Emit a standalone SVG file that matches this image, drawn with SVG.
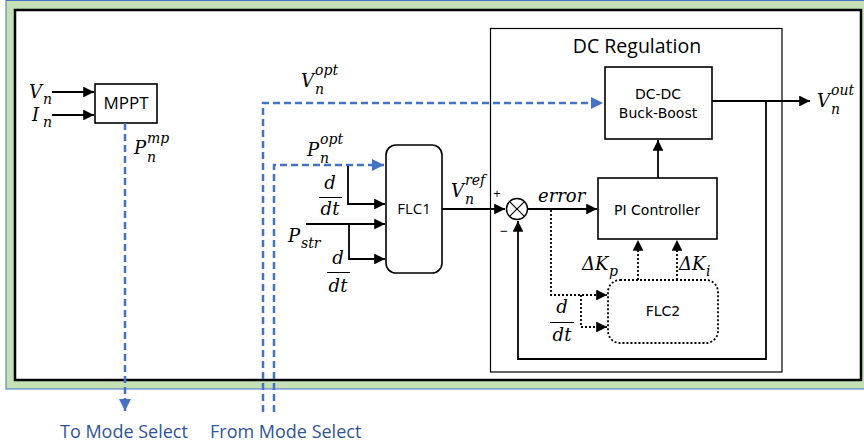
<svg xmlns="http://www.w3.org/2000/svg" width="864" height="448" viewBox="0 0 864 448">
<style>
.box{fill:#fff;stroke:#000;stroke-width:1.6}
.ln{fill:none;stroke:#000;stroke-width:1.8}
.dot{fill:none;stroke:#000;stroke-width:1.8;stroke-dasharray:2,2}
.bl{fill:none;stroke:#4472c4;stroke-width:2.5;stroke-dasharray:7,4}
.t{font-family:"Open Sans","Noto Sans",sans-serif;font-size:16px;fill:#000;text-anchor:middle}
.d{font-family:"DejaVu Sans",sans-serif;font-size:14px;fill:#000;text-anchor:middle}
.m{font-family:"DejaVu Serif",serif;font-style:italic;font-size:18px;fill:#000}
.s{font-size:14px}
.bt{font-family:"Open Sans","Noto Sans",sans-serif;font-size:18px;fill:#2f5597}
</style>
<defs>
<marker id="a" viewBox="0 0 10 10" refX="10" refY="5" markerWidth="6" markerHeight="6" markerUnits="strokeWidth" orient="auto"><path d="M0,0L10,5L0,10z" fill="#000"/></marker>
<marker id="b" viewBox="0 0 10 10" refX="10" refY="5" markerWidth="5" markerHeight="5" markerUnits="strokeWidth" orient="auto"><path d="M0,0L10,5L0,10z" fill="#4472c4"/></marker>
</defs>
<rect x="6" y="0.5" width="870" height="388.5" fill="#c5e0b4" stroke="#4472c4" stroke-width="1"/>
<rect x="15" y="10" width="846" height="370" fill="#fff" stroke="#000" stroke-width="2.5"/>

<g id="dcreg">
<rect x="490.5" y="28.5" width="291.5" height="343.5" fill="none" stroke="#000" stroke-width="1.2"/>
<text class="t" x="637" y="53" style="font-size:19.5px">DC Regulation</text>
</g>
<g id="mppt">
<rect class="box" x="95" y="84" width="62" height="39"/>
<text class="t" x="126" y="109" style="font-size:17px">MPPT</text>
</g>
<g id="flc1">
<rect class="box" x="386" y="145" width="56" height="128" rx="10"/>
<text class="t" x="414" y="214" style="font-size:15px">FLC1</text>
</g>
<g id="dcdc">
<rect class="box" x="605" y="67" width="107" height="72"/>
<text class="d" x="658" y="99">DC-DC</text>
<text class="d" x="658" y="118">Buck-Boost</text>
</g>
<g id="pi">
<rect class="box" x="598" y="178" width="119" height="61"/>
<text class="d" x="657" y="215">PI Controller</text>
</g>
<g id="flc2">
<rect x="608" y="280" width="110" height="63" rx="12" fill="#fff" stroke="#000" stroke-width="1.8" stroke-dasharray="2,2"/>
<text class="d" x="663" y="316">FLC2</text>
</g>
<g id="sum">
<circle cx="517" cy="209" r="10.5" fill="#fff" stroke="#000" stroke-width="1.4"/>
<path d="M509.6,201.6L524.4,216.4M524.4,201.6L509.6,216.4" stroke="#000" stroke-width="1.2"/>
</g>

<g id="connectors">
<path class="ln" d="M52,92H94" marker-end="url(#a)"/>
<path class="ln" d="M52,115H94" marker-end="url(#a)"/>
<path class="bl" d="M125,123V411" marker-end="url(#b)"/>
<path class="bl" d="M263,412V103H603" marker-end="url(#b)"/>
<path class="bl" d="M274,412V165H384" marker-end="url(#b)"/>
<path class="ln" d="M348,166V204H385" marker-end="url(#a)"/>
<path class="ln" d="M306,224H385" marker-end="url(#a)"/>
<path class="ln" d="M349,224V259H385" marker-end="url(#a)"/>
<path class="ln" d="M442,209H505" marker-end="url(#a)"/>
<path class="ln" d="M528,209H597" marker-end="url(#a)"/>
<path class="ln" d="M658,178V140" marker-end="url(#a)"/>
<path class="ln" d="M712,101H810" marker-end="url(#a)"/>
<path class="ln" d="M766,101V359H518V221" marker-end="url(#a)"/>
<path class="dot" d="M551,210V295H607" marker-end="url(#a)"/>
<path class="dot" d="M581,295V327H607" marker-end="url(#a)"/>
<path class="dot" d="M638,280V240" marker-end="url(#a)"/>
<path class="dot" d="M677,280V240" marker-end="url(#a)"/>
</g>

<g id="labels">
<text class="m" x="29" y="98">V<tspan class="s" x="43" y="104">n</tspan></text>
<text class="m" x="32" y="121">I<tspan class="s" x="43" y="127">n</tspan></text>
<text class="m" x="134" y="154">P<tspan class="s" x="147" y="162">n</tspan><tspan class="s" x="147" y="143">mp</tspan></text>
<text class="m" x="301" y="87">V<tspan class="s" x="315" y="94">n</tspan><tspan class="s" x="315" y="75">opt</tspan></text>
<text class="m" x="307" y="156">P<tspan class="s" x="320" y="163">n</tspan><tspan class="s" x="320" y="144">opt</tspan></text>
<text class="m" x="451" y="197">V<tspan class="s" x="465" y="204">n</tspan><tspan class="s" x="465" y="185">ref</tspan></text>
<text class="m" x="817" y="107">V<tspan class="s" x="831" y="114">n</tspan><tspan class="s" x="831" y="95">out</tspan></text>
<text class="m" x="288" y="242">P<tspan class="s" x="301" y="248">str</tspan></text>
<text class="m" x="538" y="202">error</text>
<text class="m" x="582" y="270">ΔK<tspan class="s" x="609" y="276">p</tspan></text>
<text class="m" x="679" y="270">ΔK<tspan class="s" x="706" y="276">i</tspan></text>
<text class="m" x="330" y="189" text-anchor="middle">d</text>
<path d="M319,197.5H342" stroke="#000" stroke-width="1"/>
<text class="m" x="330" y="215" text-anchor="middle">dt</text>
<text class="m" x="338" y="264" text-anchor="middle">d</text>
<text class="m" x="338" y="292" text-anchor="middle">dt</text>
<path d="M327,272.5H350" stroke="#000" stroke-width="1"/>
<text class="m" x="562" y="313" text-anchor="middle">d</text>
<path d="M550,322.5H574" stroke="#000" stroke-width="1"/>
<text class="m" x="562" y="341" text-anchor="middle">dt</text>
<text class="t" x="497" y="198" style="font-size:13px">+</text>
<text class="t" x="504" y="236" style="font-size:14px">−</text>
<text class="bt" x="60" y="438">To Mode Select</text>
<text class="bt" x="210" y="438">From Mode Select</text>
</g>
</svg>
